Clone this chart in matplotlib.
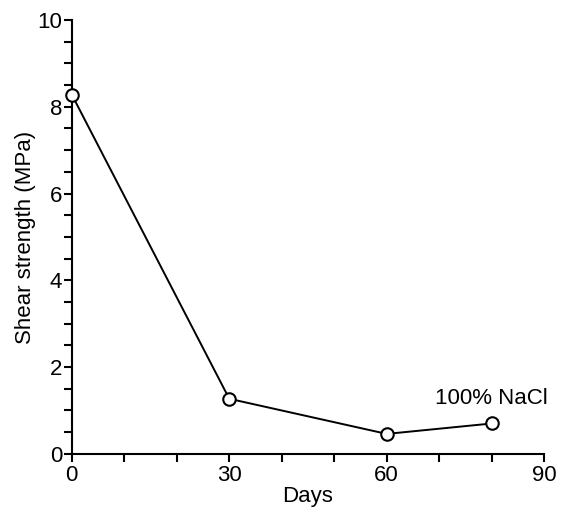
import matplotlib.pyplot as plt
from matplotlib.ticker import MultipleLocator

plt.rcParams['font.family'] = ['Liberation Sans', 'DejaVu Sans']

# Shear strength vs. immersion time in 100% NaCl
days = [0, 30, 60, 80]
shear_strength = [8.28, 1.27, 0.46, 0.70]
series_label = '100% NaCl'

fig = plt.figure(figsize=(5.61, 5.14), dpi=100)
ax = fig.add_axes([0.128, 0.117, 0.842, 0.844])

ax.plot(days, shear_strength, color='black', linewidth=1.4,
        marker='o', markersize=9, markerfacecolor='white',
        markeredgecolor='black', markeredgewidth=1.5, clip_on=False, zorder=3)

ax.text(69.2, 1.28, series_label, fontsize=16, va='center', ha='left')

ax.set_xlim(0, 90)
ax.set_ylim(0, 10)
ax.xaxis.set_major_locator(MultipleLocator(30))
ax.xaxis.set_minor_locator(MultipleLocator(10))
ax.yaxis.set_major_locator(MultipleLocator(2))
ax.yaxis.set_minor_locator(MultipleLocator(0.5))

for side in ['top', 'right']:
    ax.spines[side].set_visible(False)
for side in ['left', 'bottom']:
    ax.spines[side].set_linewidth(1.5)

ax.tick_params(which='both', direction='out', length=6, width=1.5, labelsize=16)
ax.tick_params(axis='x', pad=2)
ax.tick_params(axis='y', pad=1)

ax.set_xlabel('Days', fontsize=16, labelpad=0)
ax.set_ylabel('Shear strength (MPa)', fontsize=16, labelpad=1)

fig.savefig('out.png', dpi=100)
